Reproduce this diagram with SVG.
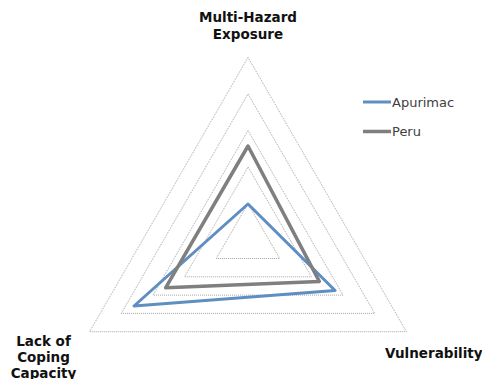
<svg xmlns="http://www.w3.org/2000/svg" width="482" height="379" viewBox="0 0 482 379">
<style>
.grid{fill:none;stroke:#8c8c8c;stroke-width:0.8;stroke-dasharray:1 1}
.s1{fill:none;stroke:#5f8ec2;stroke-width:3;stroke-linejoin:round}
.s2{fill:none;stroke:#7f7f7f;stroke-width:3.5;stroke-linejoin:round}
.lab{font-family:"DejaVu Sans",Verdana,sans-serif;font-weight:bold;font-size:13.5px;fill:#111111}
.leg{font-family:"DejaVu Sans",Verdana,sans-serif;font-size:13px;fill:#404040}
</style>
<rect width="482" height="379" fill="#ffffff"/>
<g id="grid">
<polygon class="grid" points="248,57.3 406.4,331.7 89.6,331.7"/>
<polygon class="grid" points="248,93.9 374.7,313.4 121.3,313.4"/>
<polygon class="grid" points="248,130.5 343,295.1 153,295.1"/>
<polygon class="grid" points="248,167 311.4,276.8 184.6,276.8"/>
<polygon class="grid" points="248,203.6 279.7,258.5 216.3,258.5"/>
</g>
<g id="connectors">
<polygon id="apurimac" class="s1" points="248,204 335.1,290.5 134,306"/>
<polygon id="peru" class="s2" points="248,146 319.3,281.4 165.6,287.8"/>
</g>
<g id="label-exposure">
<text class="lab" x="248" y="22" text-anchor="middle">Multi-Hazard</text>
<text class="lab" x="248" y="39" text-anchor="middle">Exposure</text>
</g>
<g id="label-coping">
<text class="lab" x="43.5" y="346" text-anchor="middle">Lack of</text>
<text class="lab" x="43.5" y="362" text-anchor="middle">Coping</text>
<text class="lab" x="43.5" y="377.5" text-anchor="middle">Capacity</text>
</g>
<g id="label-vulnerability">
<text class="lab" x="385" y="357.5">Vulnerability</text>
</g>
<g id="legend">
<line x1="363" y1="102" x2="391" y2="102" stroke="#5f8ec2" stroke-width="3"/>
<text class="leg" x="392" y="107">Apurimac</text>
<line x1="363" y1="131.5" x2="391" y2="131.5" stroke="#7f7f7f" stroke-width="3.5"/>
<text class="leg" x="392" y="136">Peru</text>
</g>
</svg>
